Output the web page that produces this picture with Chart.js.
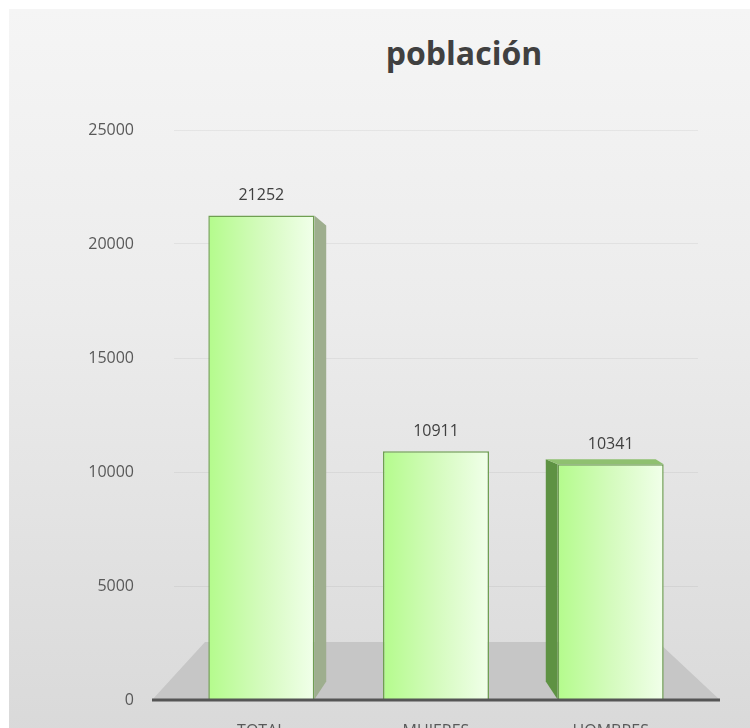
<!DOCTYPE html>
<html>
<head>
<meta charset="utf-8">
<script src="https://cdn.jsdelivr.net/npm/chart.js@4"></script>
<style>
  html, body { margin: 0; padding: 0; width: 750px; height: 728px; overflow: hidden; background: #fff; }
  #bg { position: absolute; left: 9px; top: 9px; width: 741px; height: 751px;
        background: linear-gradient(to bottom, #f5f5f5 0%, #ececec 40%, #d8d8d8 100%); }
  #wrap { position: absolute; left: 0; top: 0; width: 750px; height: 760px; }
  #titulo { position: absolute; left: 314px; top: 33px; width: 300px; text-align: center;
            font: bold 32px "Open Sans", sans-serif; line-height: 40px; color: #404040; }
</style>
</head>
<body>
<div id="bg"></div>
<div id="titulo">población</div>
<div id="wrap"><canvas id="chart" width="750" height="760"></canvas></div>
<script>
const titleText = 'población';
const categories = ['TOTAL', 'MUJERES', 'HOMBRES'];
const poblacion = [21252, 10911, 10341];
const yTicks = [0, 5000, 10000, 15000, 20000, 25000];

const barPct = 0.607;
const fontFamily = '"Open Sans", sans-serif';

document.getElementById('titulo').textContent = titleText;

// gradiente horizontal de cada barra
function barGradient(context) {
    const chart = context.chart;
    const xs = chart.scales.x;
    const fallback = '#c8f5a8';
    if (!xs || context.dataIndex === undefined) return fallback;
    const cx = xs.getPixelForValue(context.dataIndex);
    const half = (xs.width / categories.length) * barPct / 2;
    if (!isFinite(cx) || !isFinite(half) || half <= 0) return fallback;
    const g = chart.ctx.createLinearGradient(cx - half, 0, cx + half, 0);
    g.addColorStop(0, '#b4fb8c');
    g.addColorStop(0.5, '#d4fbbd');
    g.addColorStop(1, '#f1ffea');
    return g;
}

// suelo, caras laterales, eje y etiquetas de valor
const pseudo3d = {
    id: 'pseudo3d',
    beforeDatasetsDraw(chart) {
        const { ctx, chartArea } = chart;
        const y0 = chart.scales.y.getPixelForValue(0);
        ctx.save();
        ctx.fillStyle = '#c6c6c6';
        ctx.beginPath();
        ctx.moveTo(chartArea.left - 22, y0);
        ctx.lineTo(chartArea.right + 22, y0);
        ctx.lineTo(chartArea.right - 40, y0 - 58);
        ctx.lineTo(chartArea.left + 31, y0 - 58);
        ctx.closePath();
        ctx.fill();

        const cx = (chartArea.left + chartArea.right) / 2;
        chart.getDatasetMeta(0).data.forEach(bar => {
            const dx = (cx - bar.x) * 0.068;
            if (Math.abs(dx) < 2) return;
            const edge = dx > 0 ? bar.x + bar.width / 2 : bar.x - bar.width / 2;
            const topOff = dx > 0 ? 10 : -5;
            ctx.fillStyle = dx > 0 ? '#9eae8e' : '#5e9243';
            ctx.beginPath();
            ctx.moveTo(edge, bar.y);
            ctx.lineTo(edge + dx, bar.y + topOff);
            ctx.lineTo(edge + dx, bar.base - 18);
            ctx.lineTo(edge, bar.base);
            ctx.closePath();
            ctx.fill();
            if (dx < 0) {
                // cara superior fina
                ctx.fillStyle = '#8fc070';
                ctx.beginPath();
                ctx.moveTo(edge, bar.y);
                ctx.lineTo(edge + dx, bar.y + topOff);
                ctx.lineTo(bar.x + bar.width / 2 - 8, bar.y + topOff);
                ctx.lineTo(bar.x + bar.width / 2, bar.y);
                ctx.closePath();
                ctx.fill();
            }
        });
        ctx.restore();
    },
    afterDatasetsDraw(chart) {
        const { ctx, chartArea } = chart;
        const y0 = chart.scales.y.getPixelForValue(0);
        ctx.save();
        ctx.strokeStyle = '#555555';
        ctx.lineWidth = 3;
        ctx.beginPath();
        ctx.moveTo(chartArea.left - 22, y0);
        ctx.lineTo(chartArea.right + 22, y0);
        ctx.stroke();

        ctx.fillStyle = '#404040';
        ctx.font = '16px ' + fontFamily;
        ctx.textAlign = 'center';
        ctx.textBaseline = 'middle';
        chart.getDatasetMeta(0).data.forEach((bar, i) => {
            ctx.fillText(String(poblacion[i]), bar.x, bar.y - 20);
        });
        ctx.restore();
    }
};

new Chart(document.getElementById('chart'), {
    type: 'bar',
    data: {
        labels: categories,
        datasets: [{
            label: titleText,
            data: poblacion,
            backgroundColor: barGradient,
            borderColor: '#6f9f52',
            borderWidth: 1.5,
            barPercentage: barPct,
            categoryPercentage: 1
        }]
    },
    options: {
        responsive: false,
        animation: false,
        layout: { padding: { top: 130, right: 52, bottom: 0, left: 0 } },
        plugins: {
            legend: { display: false },
            tooltip: { enabled: false },
            title: { display: false }
        },
        scales: {
            y: {
                min: 0,
                max: 25000,
                afterBuildTicks: scale => { scale.ticks = yTicks.map(v => ({ value: v })); },
                afterFit: scale => { scale.width = 174; },
                grid: { color: 'rgba(0,0,0,0.05)', drawTicks: false },
                border: { display: false },
                ticks: {
                    padding: 40,
                    color: '#595959',
                    font: { family: fontFamily, size: 16 },
                    callback: value => String(value)
                }
            },
            x: {
                afterFit: scale => { scale.height = 60; },
                grid: { display: false },
                border: { display: false },
                ticks: {
                    padding: 14,
                    color: '#595959',
                    font: { family: fontFamily, size: 16 }
                }
            }
        }
    },
    plugins: [pseudo3d]
});
</script>
</body>
</html>
